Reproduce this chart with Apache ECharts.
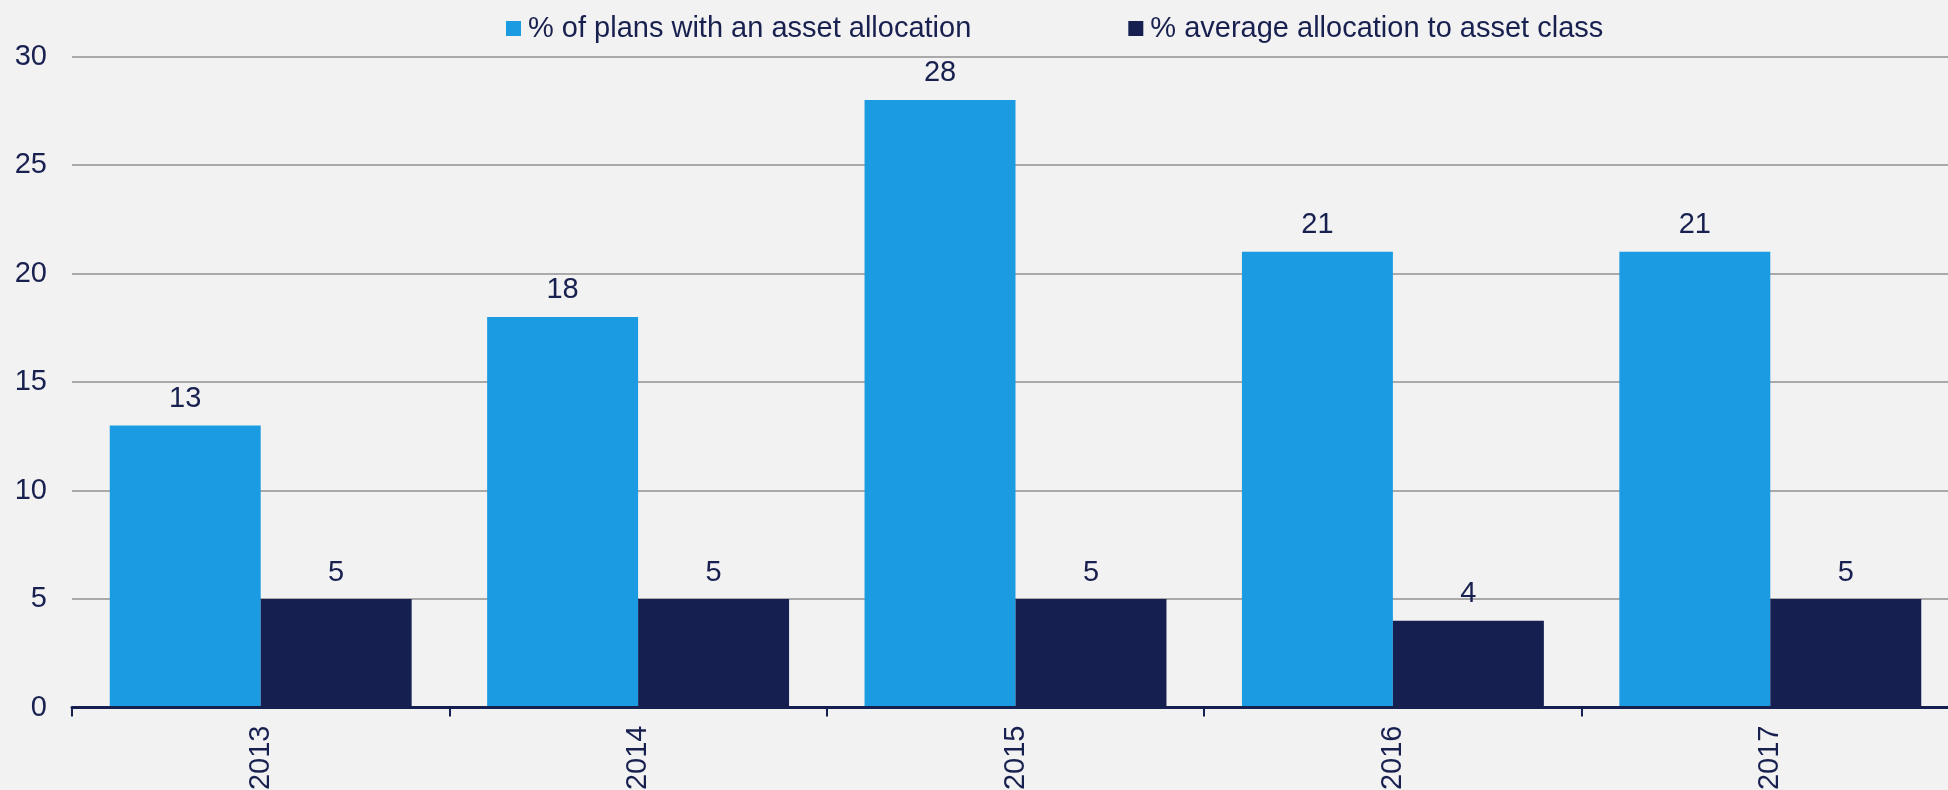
<!DOCTYPE html>
<html>
<head>
<meta charset="utf-8">
<script src="https://cdn.jsdelivr.net/npm/echarts@6/dist/echarts.min.js"></script>
<style>
  html, body { margin: 0; padding: 0; background: #f2f2f2; }
  #chart { width: 1948px; height: 790px; }
</style>
</head>
<body>
<div id="chart"></div>
<script>
// Survey years and series values
const years = ['2013', '2014', '2015', '2016', '2017'];
const plansWithAllocation = [13, 18, 28, 21, 21];
const averageAllocation = [5, 5, 5, 4, 5];
const seriesNames = ['% of plans with an asset allocation', '% average allocation to asset class'];

const TEXT = '#18204f';
const FONT = '"Liberation Sans", Arial, sans-serif';

const chart = echarts.init(document.getElementById('chart'), null, { renderer: 'canvas' });

const labelStyle = {
  show: true,
  position: 'top',
  distance: 12,
  color: TEXT,
  fontFamily: FONT,
  fontSize: 29
};

chart.setOption({
  backgroundColor: '#f2f2f2',
  animation: false,
  textStyle: { fontFamily: FONT, color: TEXT },
  legend: {
    left: 501,
    top: 9,
    itemWidth: 15,
    itemHeight: 15,
    itemGap: 157,
    icon: 'rect',
    textStyle: { color: TEXT, fontFamily: FONT, fontSize: 29, padding: [0, 0, 0, 2] },
    data: seriesNames
  },
  grid: {
    left: 72,
    top: 56.5,
    width: 1887,
    height: 651,
    outerBoundsMode: 'none',
    containLabel: false
  },
  xAxis: {
    type: 'category',
    data: years,
    boundaryGap: true,
    z: 5,
    axisLine: { show: true, lineStyle: { color: '#151f50', width: 3 } },
    axisTick: { show: true, length: 9, alignWithLabel: false, lineStyle: { color: '#151f50', width: 2 } },
    axisLabel: {
      rotate: 90,
      margin: 18,
      color: TEXT,
      fontFamily: FONT,
      fontSize: 29
    },
    splitLine: { show: false }
  },
  yAxis: {
    type: 'value',
    min: 0,
    max: 30,
    interval: 5,
    axisLine: { show: false },
    axisTick: { show: false },
    axisLabel: { margin: 25, color: TEXT, fontFamily: FONT, fontSize: 29 },
    splitLine: { show: true, lineStyle: { color: '#a9a9a9', width: 2 } }
  },
  series: [
    {
      name: seriesNames[0],
      type: 'bar',
      data: plansWithAllocation,
      barGap: '0%',
      barCategoryGap: '20%',
      itemStyle: { color: '#1b9ce2' },
      label: labelStyle
    },
    {
      name: seriesNames[1],
      type: 'bar',
      data: averageAllocation,
      barGap: '0%',
      barCategoryGap: '20%',
      itemStyle: { color: '#151f50' },
      label: labelStyle
    }
  ]
});
</script>
</body>
</html>
